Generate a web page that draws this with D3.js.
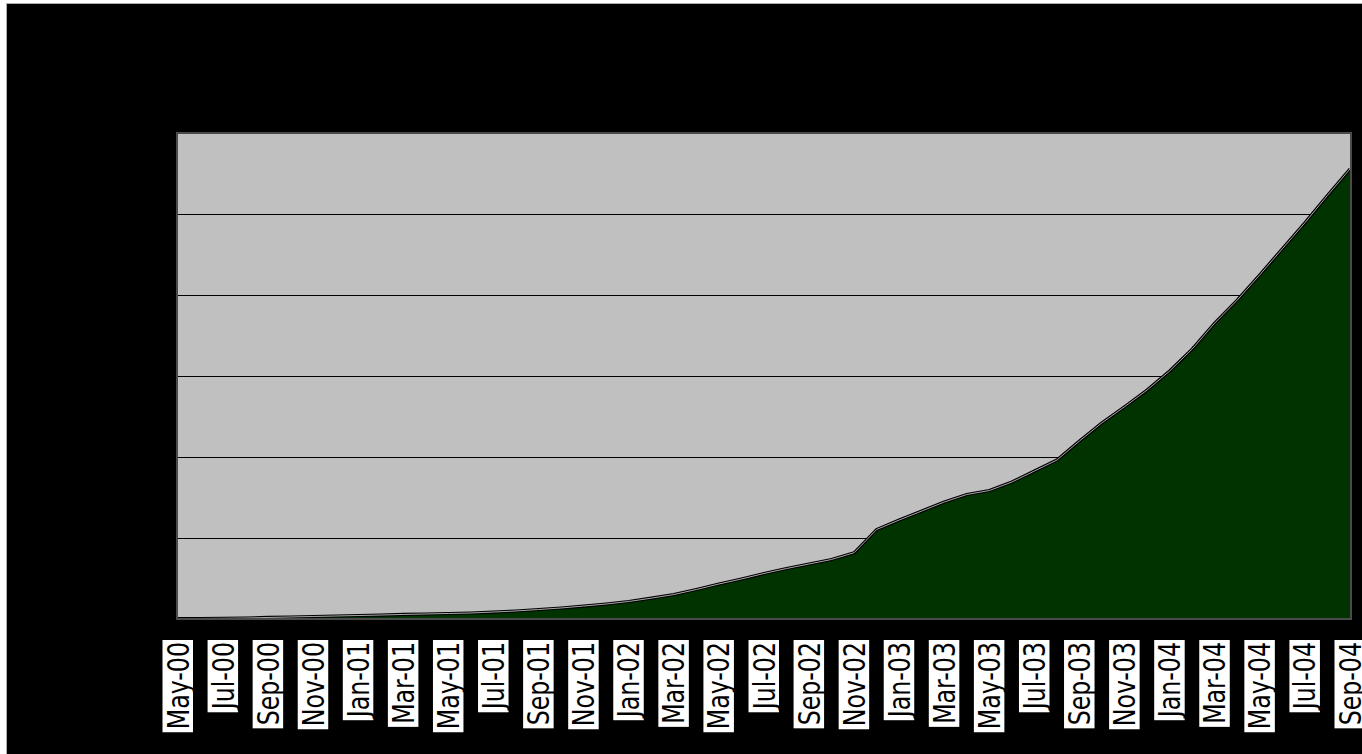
<!DOCTYPE html>
<html>
<head>
<meta charset="utf-8">
<script src="https://cdn.jsdelivr.net/npm/d3@7"></script>
<style>
  body { margin: 0; background: #fff; }
  svg { display: block; }
</style>
</head>
<body>
<div class="chartContainer"></div>
<script>
// monthly values, May-00 .. Sep-04
const months = [
  "May-00", "Jun-00", "Jul-00", "Aug-00", "Sep-00", "Oct-00", "Nov-00", "Dec-00",
  "Jan-01", "Feb-01", "Mar-01", "Apr-01", "May-01", "Jun-01", "Jul-01", "Aug-01",
  "Sep-01", "Oct-01", "Nov-01", "Dec-01", "Jan-02", "Feb-02", "Mar-02", "Apr-02",
  "May-02", "Jun-02", "Jul-02", "Aug-02", "Sep-02", "Oct-02", "Nov-02", "Dec-02",
  "Jan-03", "Feb-03", "Mar-03", "Apr-03", "May-03", "Jun-03", "Jul-03", "Aug-03",
  "Sep-03", "Oct-03", "Nov-03", "Dec-03", "Jan-04", "Feb-04", "Mar-04", "Apr-04",
  "May-04", "Jun-04", "Jul-04", "Aug-04", "Sep-04"
];
const values = [
  4, 6, 9, 12, 19, 25, 31, 37,
  43, 49, 56, 62, 68, 74, 86, 99,
  117, 136, 160, 185, 216, 257, 302, 364,
  432, 494, 562, 623, 679, 735, 818, 1105,
  1222, 1333, 1444, 1537, 1586, 1691, 1827, 1963,
  2198, 2423, 2621, 2827, 3062, 3333, 3654, 3938,
  4250, 4571, 4892, 5229, 5556
];
const yTicks = [0, 1000, 2000, 3000, 4000, 5000, 6000];
const xTickLabels = months.filter((d, i) => i % 2 === 0);

const w = 1362;
const h = 754;
const plot = { left: 177, right: 1351, top: 133, bottom: 619 };

const dataset = months.map((m, i) => ({ month: m, value: values[i] }));

const svg = d3
  .select(".chartContainer")
  .append("svg")
  .attr("width", w)
  .attr("height", h);

// black frame
svg
  .append("rect")
  .attr("x", 6.5)
  .attr("y", 3.5)
  .attr("width", w)
  .attr("height", h)
  .attr("fill", "#000")
  .attr("stroke", "#b0b0b0");

const xScale = d3
  .scalePoint()
  .domain(months)
  .range([plot.left + 1, plot.right - 1]);

const yScale = d3
  .scaleLinear()
  .domain([0, 6000])
  .range([plot.bottom, plot.top]);

// plot area
svg
  .append("rect")
  .attr("x", plot.left)
  .attr("y", plot.top)
  .attr("width", plot.right - plot.left)
  .attr("height", plot.bottom - plot.top)
  .attr("fill", "#c0c0c0");

// gridlines
svg
  .append("g")
  .attr("class", "grid")
  .selectAll("line")
  .data(yTicks.slice(1, -1))
  .enter()
  .append("line")
  .attr("x1", plot.left)
  .attr("x2", plot.right)
  .attr("y1", (d) => Math.round(yScale(d)) + 0.5)
  .attr("y2", (d) => Math.round(yScale(d)) + 0.5)
  .attr("stroke", "#000")
  .attr("stroke-width", 1);

// area
const area = d3
  .area()
  .x((d) => xScale(d.month))
  .y0(yScale(0))
  .y1((d) => yScale(d.value));

svg
  .append("path")
  .datum(dataset)
  .attr("d", area)
  .attr("fill", "#003300");

const line = d3
  .line()
  .x((d) => xScale(d.month))
  .y((d) => yScale(d.value));

svg
  .append("path")
  .datum(dataset)
  .attr("d", line)
  .attr("fill", "none")
  .attr("stroke", "#000")
  .attr("stroke-width", 3.2);

svg
  .append("path")
  .datum(dataset)
  .attr("d", line)
  .attr("fill", "none")
  .attr("stroke", "#a8a8a8")
  .attr("stroke-width", 1);

// plot border
svg
  .append("rect")
  .attr("x", plot.left)
  .attr("y", plot.top)
  .attr("width", plot.right - plot.left)
  .attr("height", plot.bottom - plot.top)
  .attr("fill", "none")
  .attr("stroke", "#4a4a4a")
  .attr("stroke-width", 2);

// y axis labels (black on black, as in the original)
const yAxis = d3.axisLeft(yScale).tickValues(yTicks).tickSize(0).tickPadding(8);
svg
  .append("g")
  .attr("id", "y-axis")
  .attr("transform", "translate(" + plot.left + ",0)")
  .call(yAxis)
  .call((g) => g.select(".domain").remove())
  .selectAll("text")
  .attr("fill", "#000")
  .style("font-family", "DejaVu Sans")
  .style("font-size", "20px");

// x labels: rotated, on white boxes
const labels = svg
  .append("g")
  .attr("id", "x-axis")
  .selectAll("g")
  .data(xTickLabels)
  .enter()
  .append("g")
  .attr("transform", (d) => "translate(" + xScale(d) + ",642) rotate(-90)");

labels
  .append("text")
  .attr("text-anchor", "end")
  .attr("dy", "0.35em")
  .attr("transform", "scale(0.79,1)")
  .style("font-family", "DejaVu Sans")
  .style("font-size", "30px")
  .attr("fill", "#000")
  .text((d) => d);

labels.each(function () {
  const g = d3.select(this);
  const len = g.select("text").node().getComputedTextLength() * 0.79;
  g.insert("rect", "text")
    .attr("x", -len - 3)
    .attr("y", -15.5)
    .attr("width", len + 5)
    .attr("height", 30.5)
    .attr("fill", "#fff");
});
</script>
</body>
</html>
